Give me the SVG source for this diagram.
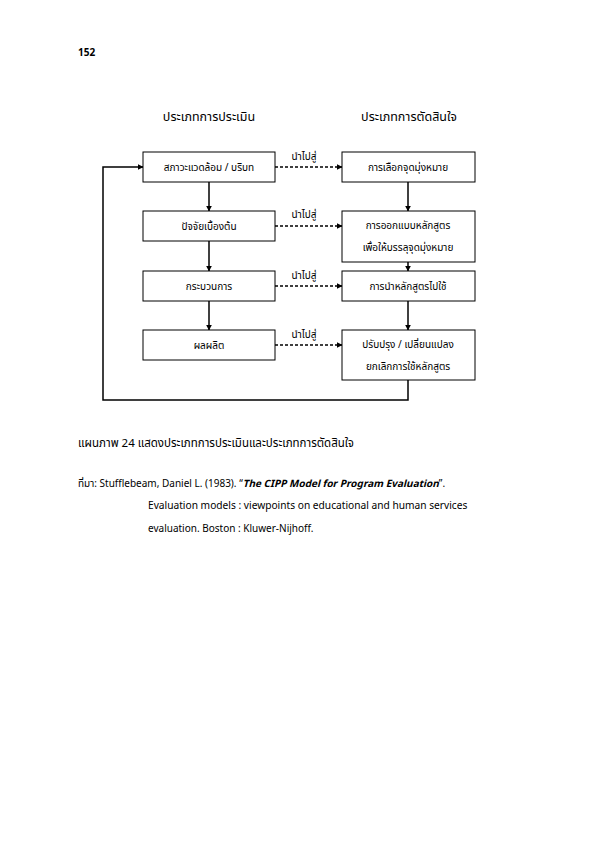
<svg xmlns="http://www.w3.org/2000/svg" width="595" height="842" viewBox="0 0 595 842">
<defs>
<marker id="ah" viewBox="0 0 10 10" refX="9" refY="5" markerWidth="6" markerHeight="6" markerUnits="userSpaceOnUse" orient="auto"><path d="M0,0 L10,5 L0,10 z" fill="#000"/></marker>
</defs>
<style>
text{font-family:"Noto Sans Thai","Noto Sans","DejaVu Sans",sans-serif;font-size:10px;fill:#000}
.box{fill:#fff;stroke:#000;stroke-width:1}
.ln{fill:none;stroke:#000;stroke-width:1.5}
.dash{fill:none;stroke:#000;stroke-width:1.5;stroke-dasharray:3,2}
.c{text-anchor:middle}
.h{font-size:12.5px}
</style>
<rect width="595" height="842" fill="#fff"/>
<text x="78" y="56" style="font-weight:bold">152</text>
<text x="209" y="121" class="c h">ประเภทการประเมิน</text>
<text x="409" y="121" class="c h">ประเภทการตัดสินใจ</text>
<g id="connectors">
<path class="ln" d="M209,182 V211" marker-end="url(#ah)"/>
<path class="ln" d="M209,241 V271" marker-end="url(#ah)"/>
<path class="ln" d="M209,301 V330" marker-end="url(#ah)"/>
<path class="ln" d="M408,182 V211" marker-end="url(#ah)"/>
<path class="ln" d="M408,262 V271" marker-end="url(#ah)"/>
<path class="ln" d="M408,301 V330" marker-end="url(#ah)"/>
<path class="ln" d="M408,380 V400 H103 V167 H143" marker-end="url(#ah)"/>
<path class="dash" d="M275,167 H342" marker-end="url(#ah)"/>
<path class="dash" d="M275,226 H342" marker-end="url(#ah)"/>
<path class="dash" d="M275,286 H342" marker-end="url(#ah)"/>
<path class="dash" d="M275,345 H342" marker-end="url(#ah)"/>
<text x="304" y="160" class="c">นำไปสู่</text>
<text x="304" y="218" class="c">นำไปสู่</text>
<text x="304" y="279" class="c">นำไปสู่</text>
<text x="304" y="338" class="c">นำไปสู่</text>
</g>
<g id="n1"><rect class="box" x="143" y="152" width="132" height="30"/><text x="209" y="171" class="c">สภาวะแวดล้อม / บริบท</text></g>
<g id="n2"><rect class="box" x="143" y="211" width="132" height="30"/><text x="209" y="230" class="c">ปัจจัยเบื้องต้น</text></g>
<g id="n3"><rect class="box" x="143" y="271" width="132" height="30"/><text x="209" y="290" class="c">กระบวนการ</text></g>
<g id="n4"><rect class="box" x="143" y="330" width="132" height="30"/><text x="209" y="349" class="c">ผลผลิต</text></g>
<g id="n5"><rect class="box" x="342" y="152" width="133" height="30"/><text x="408" y="171" class="c">การเลือกจุดมุ่งหมาย</text></g>
<g id="n6"><rect class="box" x="342" y="211" width="133" height="51"/><text x="408" y="229" class="c">การออกแบบหลักสูตร</text><text x="408" y="251" class="c">เพื่อให้บรรลุจุดมุ่งหมาย</text></g>
<g id="n7"><rect class="box" x="342" y="271" width="133" height="30"/><text x="408" y="290" class="c">การนำหลักสูตรไปใช้</text></g>
<g id="n8"><rect class="box" x="342" y="330" width="133" height="50"/><text x="408" y="348" class="c">ปรับปรุง / เปลี่ยนแปลง</text><text x="408" y="370" class="c">ยกเลิกการใช้หลักสูตร</text></g>
<text x="78" y="447" style="font-size:11.5px">แผนภาพ 24 แสดงประเภทการประเมินและประเภทการตัดสินใจ</text>
<text x="78" y="487">ที่มา: Stufflebeam, Daniel L. (1983). “<tspan style="font-style:italic;font-weight:bold">The CIPP Model for Program Evaluation</tspan>”.</text>
<text x="148" y="509" style="font-size:10.2px">Evaluation  models : viewpoints on educational and human services</text>
<text x="148" y="532">evaluation.  Boston : Kluwer-Nijhoff.</text>
</svg>
